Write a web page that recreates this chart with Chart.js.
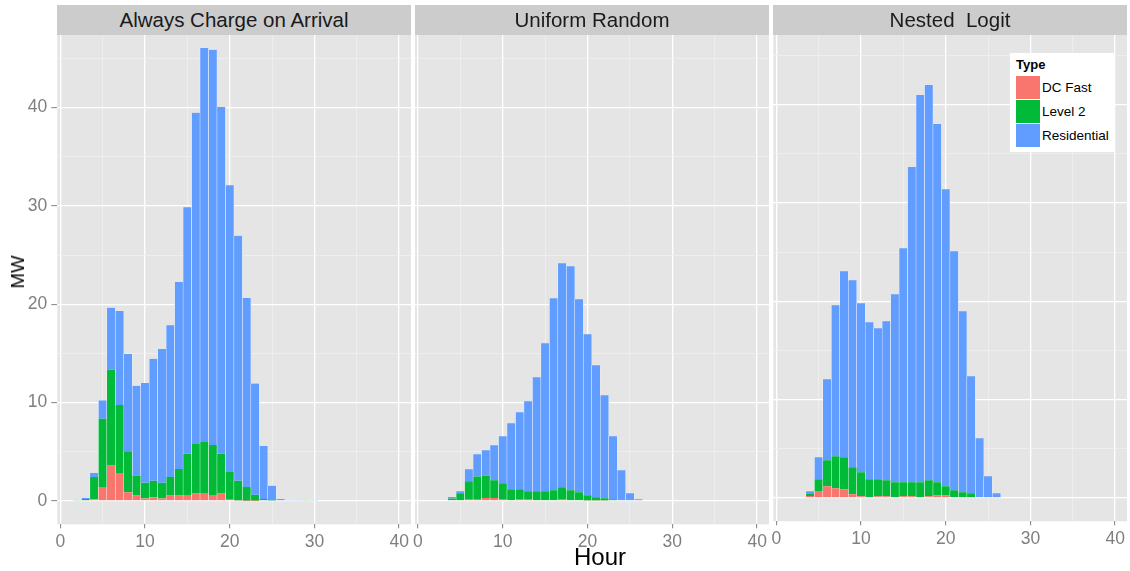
<!DOCTYPE html>
<html>
<head>
<meta charset="utf-8">
<script src="https://cdn.jsdelivr.net/npm/chart.js@4.4.1/dist/chart.umd.min.js"></script>
<style>
  html, body { margin: 0; padding: 0; background: #ffffff; }
  #wrap { position: relative; width: 1130px; height: 571px; overflow: hidden; font-family: "Liberation Sans", Arial, Helvetica, sans-serif; }
  canvas.panel { position: absolute; left: 0; top: 0; }
  .strip { position: absolute; top: 5px; height: 30px; background: #cccccc; color: #1a1a1a; font-size: 20.5px; line-height: 30px; text-align: center; z-index: 5; white-space: pre; }
  .title { position: absolute; color: #000; z-index: 5; white-space: nowrap; }
  #legend { position: absolute; left: 1010px; top: 53px; width: 105px; height: 99px; background: #ffffff; z-index: 6; }
  #legend .lt { position: absolute; left: 6px; top: 4px; font-weight: bold; font-size: 13px; color: #000; }
  #legend .key { position: absolute; left: 6px; width: 24px; height: 23px; }
  #legend .lab { position: absolute; left: 32px; font-size: 13.5px; color: #000; line-height: 23px; }
</style>
</head>
<body>
<div id="wrap">
  <canvas id="c1" class="panel" width="1130" height="571"></canvas>
  <canvas id="c2" class="panel" width="1130" height="571"></canvas>
  <canvas id="c3" class="panel" width="1130" height="571" style="top:-3px"></canvas>
  <div class="strip" id="s1" style="left:57px;width:354px"></div>
  <div class="strip" id="s2" style="left:415px;width:354px"></div>
  <div class="strip" id="s3" style="left:773px;width:354px"></div>
  <div class="title" id="ytitle" style="left:18px;top:272px;font-size:18.5px;transform:translate(-50%,-50%) rotate(-90deg);">MW</div>
  <div class="title" id="xtitle" style="left:600px;top:557px;font-size:24px;transform:translate(-50%,-50%);">Hour</div>
  <div id="legend"></div>
</div>
<script>
// ---- data ----
const panelTitles = ["Always Charge on Arrival", "Uniform Random", "Nested  Logit"];
const seriesNames = ["DC Fast", "Level 2", "Residential"];
const seriesColors = ["#F8766D", "#00BA38", "#619CFF"];
const hours = [2,3,4,5,6,7,8,9,10,11,12,13,14,15,16,17,18,19,20,21,22,23,24,25,26,27,28,29,30,31];
const xTicks = [0,5,10,15,20,25,30,35,40];
const yTicks = [0,5,10,15,20,25,30,35,40,45];

// Panel 1: Always Charge on Arrival (MW per hour bin)
const p1Fast = [0,0,0.15,1.42,3.6,2.85,0.9,0.55,0.25,0.35,0.25,0.55,0.55,0.6,0.75,0.8,0.6,0.75,0.2,0.05,0.03,0.03,0,0,0,0,0,0,0,0];
const p1L2   = [0.1,0.2,2.3,6.95,9.75,6.9,4.15,2.05,1.6,1.7,1.6,1.9,2.7,4.2,5.05,5.2,5.1,4.05,2.75,2.0,1.4,0.6,0.2,0.05,0,0,0,0.05,0,0];
const p1Res  = [0,0.1,0.4,1.85,6.3,9.55,9.9,9.1,10.15,12.4,13.6,15.4,19.0,25.05,33.65,40.05,40.15,35.25,29.15,24.9,19.2,11.3,5.4,1.5,0.2,0.05,0.05,0,0.05,0];

// Panel 2: Uniform Random
const p2Fast = [0,0,0.07,0.07,0.2,0.2,0.3,0.3,0.2,0.07,0.2,0.2,0.07,0.07,0.07,0.2,0.07,0.07,0.05,0.05,0.05,0,0,0,0,0,0,0,0,0];
const p2L2   = [0,0,0.17,0.71,1.8,2.3,2.3,1.8,1.6,1.12,1.0,0.78,0.91,0.91,1.01,1.19,1.01,0.81,0.53,0.32,0.22,0.17,0,0,0,0,0,0,0,0];
const p2Res  = [0,0.07,0.16,0.2,1.22,2.24,2.55,3.56,4.77,6.7,7.82,9.15,11.59,15.04,19.52,22.76,22.77,19.62,16.36,13.42,10.47,6.4,3.12,0.78,0.17,0.07,0.07,0,0,0];

// Panel 3: Nested Logit
const p3Fast = [0,0,0.2,0.71,1.19,0.98,0.88,0.37,0.17,0.07,0.17,0.17,0.07,0.17,0.17,0.07,0.17,0.27,0.27,0.07,0.07,0.07,0.07,0,0,0,0,0,0,0];
const p3L2   = [0,0,0.21,1.19,2.64,3.26,3.26,2.75,2.44,1.83,1.73,1.63,1.52,1.42,1.42,1.52,1.63,1.32,0.92,0.71,0.51,0.4,0,0,0,0,0,0.07,0.07,0.07];
const p3Res  = [0,0.07,0.27,2.24,8.24,15.35,18.91,19.02,17.19,15.96,15.35,16.17,19.12,23.8,32.04,39.36,40.17,36.41,30.2,24.3,18.4,11.9,6.0,2.2,0.47,0.07,0.07,0,0,0];

const panelData = [[p1Fast,p1L2,p1Res],[p2Fast,p2L2,p2Res],[p3Fast,p3L2,p3Res]];

// ---- helpers ----
const FONT = '"Liberation Sans", Arial, Helvetica, sans-serif';
const bgPlugin = {
  id: 'panelBg',
  beforeDraw(chart) {
    const a = chart.chartArea, ctx = chart.ctx;
    ctx.save(); ctx.fillStyle = '#e5e5e5';
    ctx.fillRect(a.left, a.top, a.right - a.left, a.bottom - a.top);
    ctx.restore();
  }
};
const isMajor = v => Math.abs(v % 10) < 1e-9;
function gridOpts(showTicks) {
  return {
    offset: false,
    color: c => (c.tick && isMajor(c.tick.value)) ? '#ffffff' : '#f2f2f2',
    lineWidth: c => (c.tick && isMajor(c.tick.value)) ? 1.3 : 0.7,
    drawTicks: showTicks,
    tickLength: 5,
    tickWidth: 1,
    tickColor: c => (c.tick && isMajor(c.tick.value)) ? '#7f7f7f' : 'rgba(0,0,0,0)'
  };
}

function makePanel(id, pi, padLeft, padRight, showY) {
  const ds = panelData[pi].map((vals, si) => ({
    label: seriesNames[si],
    data: hours.map((h, i) => ({ x: h, y: vals[i] })),
    backgroundColor: seriesColors[si],
    borderColor: '#ffffff',
    borderWidth: { left: 0.5, right: 0.5, top: 0, bottom: 0 },
    borderSkipped: false,
    barPercentage: 1,
    categoryPercentage: 1
  }));
  return new Chart(document.getElementById(id), {
    type: 'bar',
    data: { datasets: ds },
    plugins: [bgPlugin],
    options: {
      responsive: false,
      animation: false,
      events: [],
      layout: { padding: { left: padLeft, right: padRight, top: 35, bottom: 0 } },
      plugins: { legend: { display: false }, tooltip: { enabled: false } },
      scales: {
        x: {
          type: 'linear', min: -0.35, max: 41.4, stacked: true, offset: false,
          afterBuildTicks: s => { s.ticks = xTicks.map(v => ({ value: v })); },
          afterFit: s => { s.height = 46.7; },
          border: { display: false },
          grid: Object.assign(gridOpts(true), { tickLength: 4 }),
          ticks: {
            autoSkip: false, maxRotation: 0, minRotation: 0, padding: 3,
            color: '#7f7f7f', font: { family: FONT, size: 17.5 },
            callback: v => isMajor(v) ? String(v) : ''
          }
        },
        y: {
          type: 'linear', min: -2.37, max: 47.36, stacked: true,
          afterBuildTicks: s => { s.ticks = yTicks.map(v => ({ value: v })); },
          afterFit: s => { s.width = showY ? 57.3 : 0; },
          border: { display: false },
          grid: Object.assign(gridOpts(showY), { tickLength: 6 }),
          ticks: {
            display: showY, padding: 4,
            color: '#7f7f7f', font: { family: FONT, size: 17.5 },
            callback: v => isMajor(v) ? String(v) : ''
          }
        }
      }
    }
  });
}

makePanel('c1', 0, 0, 1130 - 411, true);
makePanel('c2', 1, 415, 1130 - 769, false);
makePanel('c3', 2, 773.3, 3, false);

// strips
['s1','s2','s3'].forEach((id, i) => { document.getElementById(id).textContent = panelTitles[i]; });

// legend
const lg = document.getElementById('legend');
const lt = document.createElement('div'); lt.className = 'lt'; lt.textContent = 'Type'; lg.appendChild(lt);
seriesNames.forEach((n, i) => {
  const top = 23 + i * 24;
  const k = document.createElement('div'); k.className = 'key';
  k.style.top = top + 'px'; k.style.background = seriesColors[i]; lg.appendChild(k);
  const l = document.createElement('div'); l.className = 'lab';
  l.style.top = top + 'px'; l.textContent = n; lg.appendChild(l);
});
</script>
</body>
</html>
